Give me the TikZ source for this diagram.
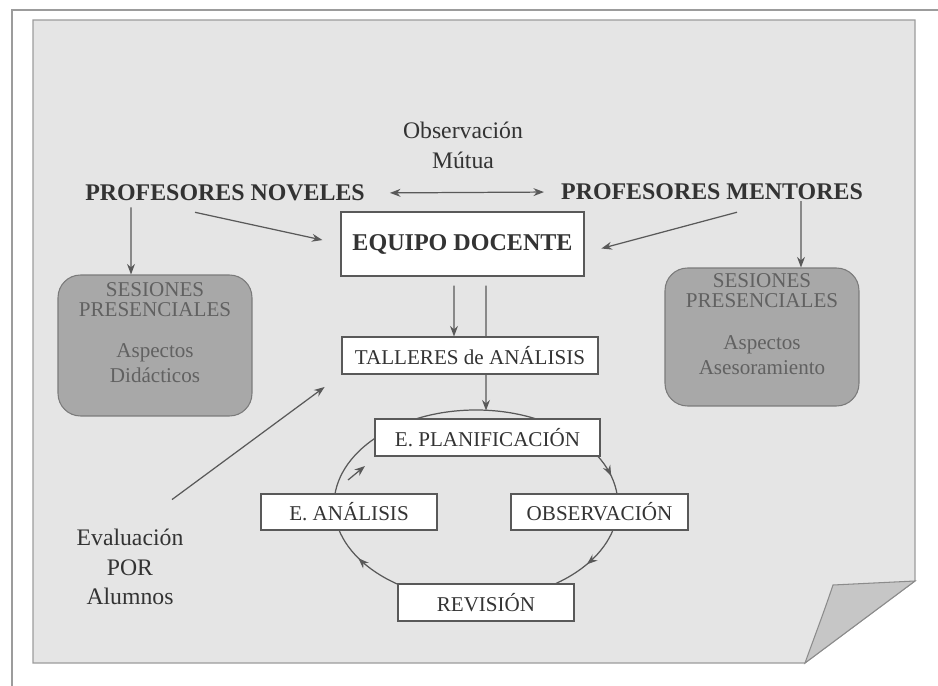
\documentclass[tikz,border=0pt]{standalone}
\usepackage{fontspec}
\setmainfont{Liberation Serif}
\usetikzlibrary{arrows.meta,decorations.markings}

\definecolor{tinta}{gray}{0.2}
\definecolor{trazo}{gray}{0.35}
\definecolor{hoja}{gray}{0.9}
\definecolor{sesion}{gray}{0.66}

\tikzset{
  caja/.style={draw=trazo, fill=white, line width=0.6pt, inner sep=0pt, text=tinta, font=\fontsize{12}{14}\selectfont},
  grupo/.style={text=tinta, font=\bfseries\fontsize{13.6}{16}\selectfont},
  rotulo/.style={align=center, text=tinta, font=\fontsize{13.5}{17}\selectfont},
  sesionbox/.style={draw=trazo!80, fill=sesion, line width=0.6pt, rounded corners=0.45cm, minimum width=3.88cm},
  sesiontexto/.style={align=center, text=black!62, font=\fontsize{12}{11.5}\selectfont},
  flecha/.style={->, draw=trazo, line width=0.7pt},
}

\begin{document}
\begin{tikzpicture}[x=0.02cm, y=-0.02cm, >={Stealth[length=6pt,width=4.5pt]}]
                \useasboundingbox (0,0) rectangle (938,686);

                % hoja de fondo
                \draw[trazo!60, line width=0.6pt] (12,686) -- (12,10) -- (938,10);
                \filldraw[fill=hoja, draw=trazo!60, line width=0.6pt] (33,20) -- (915,20) -- (915,581) -- (805,663) -- (33,663) -- cycle;
                \filldraw[fill=gray!45, draw=trazo!70, line width=0.6pt] (915,581) -- (833,585) .. controls (824,612) and (814,638) .. (805,663) -- cycle;

                % ciclo
                \draw[trazo, line width=0.7pt, postaction={decorate}, decoration={markings,
                    mark=at position 0.21 with {\arrow{>}},
                    mark=at position 0.342 with {\arrow{>}},
                    mark=at position 0.67 with {\arrow{>}}}]
                    (476,410) arc[start angle=90, end angle=-270, x radius=2.84cm, y radius=1.9cm];
                \coordinate (ciclotop) at (486,410.5);
                \coordinate (retornoA) at (348,480);
                \coordinate (retornoB) at (365,466);

                \node[grupo] (noveles) at (225,193) {PROFESORES NOVELES};
                \node[grupo] (mentores) at (712,192) {PROFESORES MENTORES};
                \node[caja, minimum width=4.86cm, minimum height=1.28cm, font=\bfseries\fontsize{13.7}{16}\selectfont] (equipo) at (462.5,244) {EQUIPO DOCENTE};
                \node[caja, minimum width=5.12cm, minimum height=0.74cm] (talleres) at (470,355.5) {TALLERES de ANÁLISIS};
                \node[caja, minimum width=4.5cm, minimum height=0.74cm] (planif) at (487.5,437.5) {E. PLANIFICACIÓN};
                \node[caja, minimum width=3.52cm, minimum height=0.72cm] (analisis) at (349,512) {E. ANÁLISIS};
                \node[caja, minimum width=3.54cm, minimum height=0.72cm] (observ) at (599.5,512) {OBSERVACIÓN};
                \node[caja, minimum width=3.52cm, minimum height=0.74cm] (revision) at (486,602.5) {REVISIÓN};

                \node[sesionbox, minimum height=2.82cm] (sesnoveles) at (155,345.5) {};
                \node[sesiontexto] (sesnovtitulo) at (155,300) {SESIONES\\PRESENCIALES};
                \node[sesiontexto, font=\fontsize{12}{14.2}\selectfont] (sesnovaspectos) at (155,363) {Aspectos\\Didácticos};
                \node[sesionbox, minimum height=2.76cm] (sesmentores) at (762,337) {};
                \node[sesiontexto] (sesmentitulo) at (762,291) {SESIONES\\PRESENCIALES};
                \node[sesiontexto, font=\fontsize{12}{14.2}\selectfont] (sesmenaspectos) at (762,355) {Aspectos\\Asesoramiento};

                \node[rotulo] (evaluacion) at (130,567) {Evaluación\\POR\\Alumnos};

                \draw[flecha, <->, shorten <=0.38cm, shorten >=0.22cm] (noveles.east) to node[rotulo, above=0.35cm] (observacion) {Observación\\Mútua} (mentores.west);
                \draw[flecha, shorten >=0.37cm] ([xshift=-0.6cm,yshift=-0.1cm]noveles.south) to (equipo.west);
                \draw[flecha, shorten >=0.35cm] ([xshift=0.5cm,yshift=-0.12cm]mentores.south) to ([yshift=-0.18cm]equipo.east);
                \draw[flecha] ([xshift=-1.88cm]noveles.south) to ([xshift=-0.48cm]sesnoveles.north);
                \draw[flecha] ([xshift=1.78cm,yshift=0.1cm]mentores.south) to ([xshift=0.78cm]sesmentores.north);
                \draw[flecha] ([xshift=-0.17cm,yshift=-0.18cm]equipo.south) to ([xshift=-0.32cm]talleres.north);
                \draw[trazo, line width=0.7pt] ([xshift=0.47cm,yshift=-0.18cm]equipo.south) to ([xshift=0.32cm]talleres.north);
                \draw[flecha] ([xshift=0.32cm]talleres.south) to (ciclotop);
                \draw[flecha, shorten >=0.42cm] ([xshift=0.84cm,yshift=0.46cm]evaluacion.north) to (talleres.south west);
                \draw[flecha] (retornoA) to (retornoB);
            \end{tikzpicture}
\end{document}
